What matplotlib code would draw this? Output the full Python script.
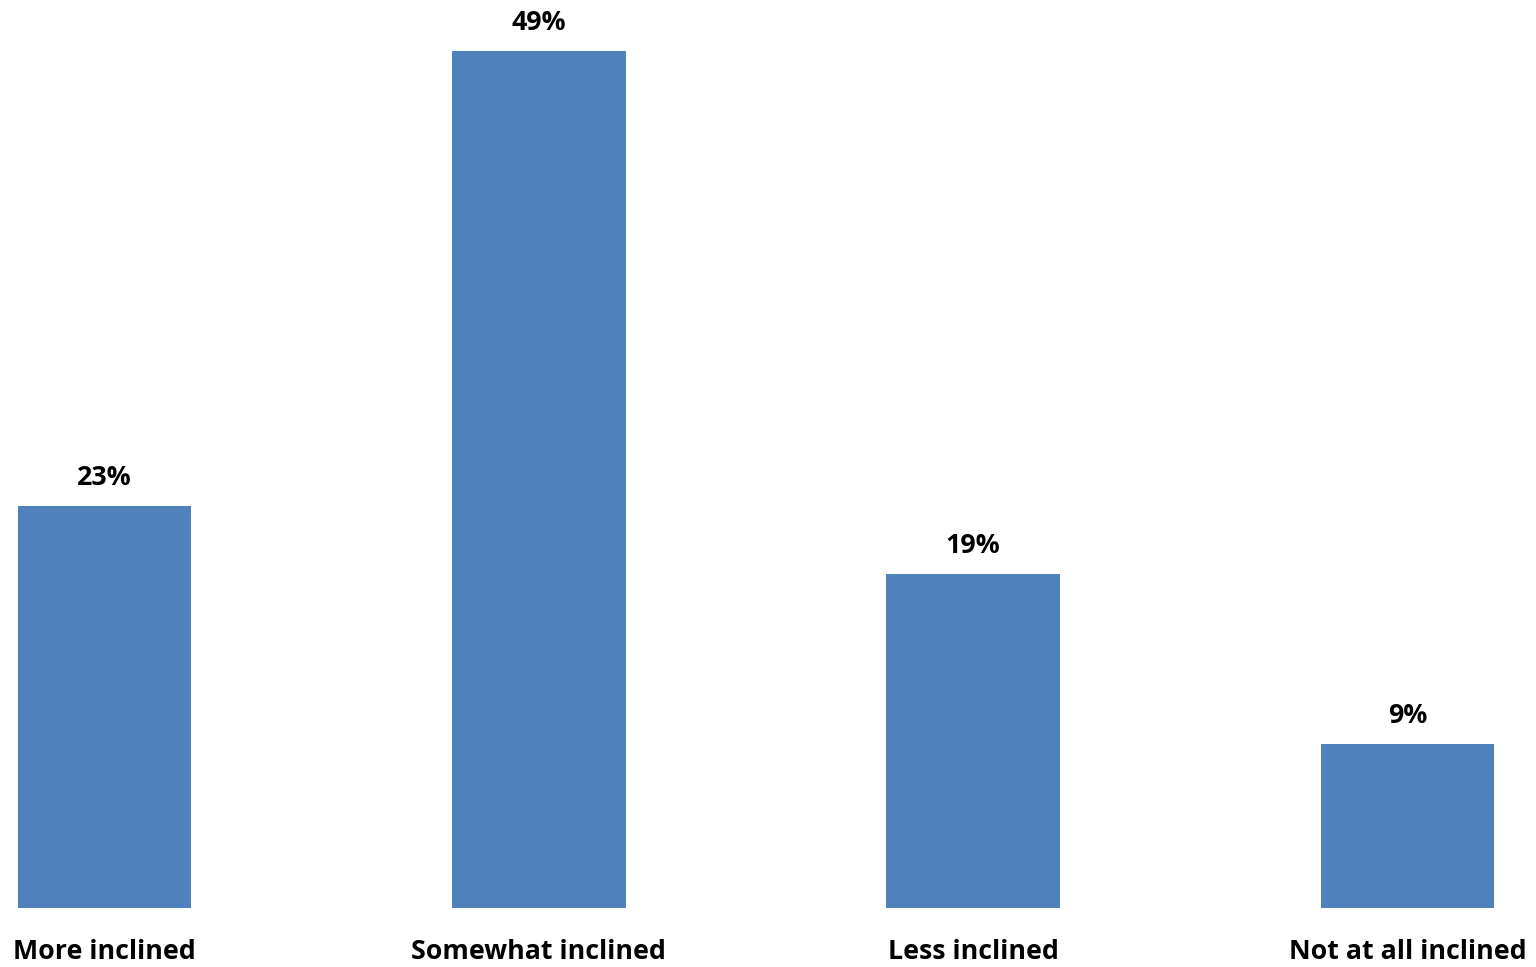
import matplotlib
matplotlib.use("Agg")
import matplotlib.pyplot as plt

categories = ["More inclined", "Somewhat inclined", "Less inclined", "Not at all inclined"]
values = [23, 49, 19.1, 9.4]
value_labels = ["23%", "49%", "19%", "9%"]

plt.rcParams['font.family'] = ['Open Sans', 'DejaVu Sans']

fig = plt.figure(figsize=(15.36, 9.67), dpi=100)
ax = fig.add_axes([0, 59/967, 1, 908/967])
x = list(range(len(categories)))
bars = ax.bar(x, values, width=0.4, color="#4F81BD")
for xi, v, lab in zip(x, values, value_labels):
    ax.text(xi, v + 0.85, lab, ha="center", va="bottom", fontsize=19.3, fontweight="bold")
ax.set_xlim(-0.2406, 3.296)
ax.set_ylim(0, 908/17.49)
ax.set_xticks(x)
ax.set_xticklabels(categories, fontsize=19.3, fontweight="bold")
ax.tick_params(axis="x", length=0, pad=22)
ax.set_yticks([])
for s in ax.spines.values():
    s.set_visible(False)
fig.savefig("out.png", dpi=100)
